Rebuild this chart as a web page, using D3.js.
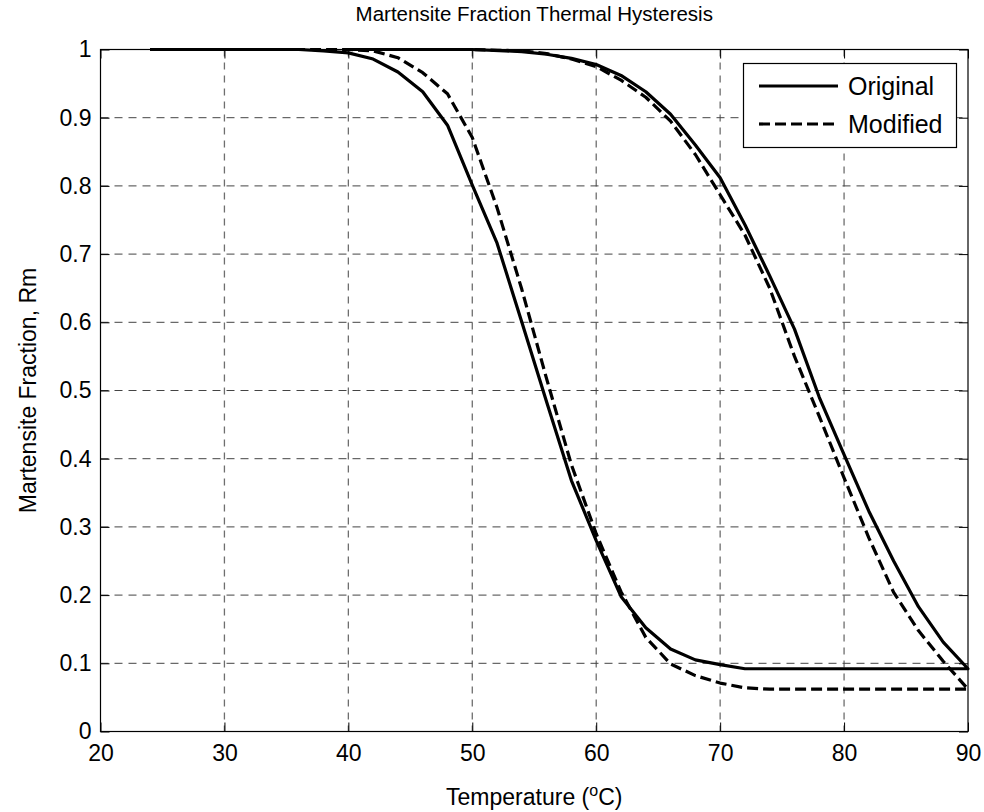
<!DOCTYPE html>
<html>
<head>
<meta charset="utf-8">
<script src="https://cdn.jsdelivr.net/npm/d3@7"></script>
<style>
  html, body { margin: 0; padding: 0; background: #fff; }
  svg { display: block; font-family: "Liberation Sans", Arial, Helvetica, sans-serif; }
</style>
</head>
<body>
<svg id="chart" width="984" height="812"></svg>
<script>
// Cooling branch (temperature rising left to right on the plot, fraction falling)
const coolingTemp     = [24, 36, 38, 40, 42, 44, 46, 48, 50, 52, 54, 56, 58, 60, 62, 64, 66, 68, 70, 72, 74, 90];
const coolingOriginal = [1.000, 1.000, 0.998, 0.995, 0.986, 0.967, 0.938, 0.889, 0.801, 0.716, 0.600, 0.483, 0.368, 0.280, 0.198, 0.152, 0.121, 0.105, 0.098, 0.092, 0.092, 0.092];
const coolingModified = [1.000, 1.000, 1.000, 1.000, 0.998, 0.988, 0.966, 0.935, 0.871, 0.768, 0.648, 0.517, 0.391, 0.290, 0.205, 0.138, 0.099, 0.082, 0.071, 0.064, 0.062, 0.062];

// Heating branch, traced back from 90 °C
const heatingTemp     = [90, 88, 86, 84, 82, 80, 78, 76, 74, 72, 70, 68, 66, 64, 62, 60, 58, 56, 54, 50, 40];
const heatingOriginal = [0.092, 0.131, 0.183, 0.250, 0.323, 0.406, 0.490, 0.590, 0.668, 0.743, 0.812, 0.860, 0.905, 0.938, 0.962, 0.978, 0.987, 0.993, 0.997, 1.000, 1.000];
const heatingModified = [0.062, 0.103, 0.148, 0.204, 0.284, 0.372, 0.462, 0.550, 0.650, 0.728, 0.787, 0.846, 0.895, 0.930, 0.955, 0.975, 0.986, 0.994, 0.998, 1.000, 1.000];

const seriesNames = ["Original", "Modified"];
const xTicks = [20, 30, 40, 50, 60, 70, 80, 90];
const yTicks = [0, 0.1, 0.2, 0.3, 0.4, 0.5, 0.6, 0.7, 0.8, 0.9, 1];
const yTickLabels = ["0", "0.1", "0.2", "0.3", "0.4", "0.5", "0.6", "0.7", "0.8", "0.9", "1"];

const margin = { left: 100.5, top: 49.5 };
const plotW = 968 - margin.left;
const plotH = 731.5 - margin.top;

const svg = d3.select("#chart");
const g = svg.append("g").attr("transform", `translate(${margin.left},${margin.top})`);

const x = d3.scaleLinear().domain([20, 90]).range([0, plotW]);
const y = d3.scaleLinear().domain([0, 1]).range([plotH, 0]);

// grid
const grid = g.append("g").attr("class", "grid");
grid.selectAll("line.vx").data(xTicks.slice(1, -1)).join("line")
  .attr("x1", d => x(d)).attr("x2", d => x(d))
  .attr("y1", 0).attr("y2", plotH)
  .attr("stroke", "#6e6e6e").attr("stroke-width", 1.3)
  .attr("stroke-dasharray", "7,6");
grid.selectAll("line.hy").data(yTicks.slice(1, -1)).join("line")
  .attr("x1", 0).attr("x2", plotW)
  .attr("y1", d => y(d)).attr("y2", d => y(d))
  .attr("stroke", "#444").attr("stroke-width", 1)
  .attr("stroke-dasharray", "8,6");

// series: each one is a closed cooling + heating loop
const line = d3.line().x(d => x(d[0])).y(d => y(d[1]));
function loop(coolVals, heatVals) {
  const pts = coolingTemp.map((t, i) => [t, coolVals[i]]);
  return pts.concat(heatingTemp.map((t, i) => [t, heatVals[i]]));
}
const series = [
  { name: seriesNames[0], pts: loop(coolingOriginal, heatingOriginal), dash: null },
  { name: seriesNames[1], pts: loop(coolingModified, heatingModified), dash: "11,5" }
];
g.append("defs").append("clipPath").attr("id", "clip")
  .append("rect").attr("x", -2).attr("y", -2).attr("width", plotW + 4).attr("height", plotH + 4);
g.selectAll("path.series").data(series).join("path")
  .attr("class", "series")
  .attr("clip-path", "url(#clip)")
  .attr("d", d => line(d.pts))
  .attr("fill", "none")
  .attr("stroke", "#000")
  .attr("stroke-width", 3.2)
  .attr("stroke-linejoin", "round")
  .attr("stroke-dasharray", d => d.dash);

// axes with inward ticks on all four sides
const tickLen = 9;
const axB = g.append("g").attr("transform", `translate(0,${plotH})`)
  .call(d3.axisBottom(x).tickValues(xTicks).tickSize(-tickLen).tickPadding(13).tickFormat(d3.format("d")));
const axT = g.append("g")
  .call(d3.axisTop(x).tickValues(xTicks).tickSize(-tickLen).tickFormat(""));
const axL = g.append("g")
  .call(d3.axisLeft(y).tickValues(yTicks).tickSize(-tickLen).tickPadding(9).tickFormat((d, i) => yTickLabels[i]));
const axR = g.append("g").attr("transform", `translate(${plotW},0)`)
  .call(d3.axisRight(y).tickValues(yTicks).tickSize(-tickLen).tickFormat(""));
[axB, axT, axL, axR].forEach(a => {
  a.select(".domain").remove();
  a.selectAll(".tick line").attr("stroke", "#000").attr("stroke-width", 1);
  a.selectAll("text").attr("font-size", 23).attr("fill", "#000")
    .attr("font-family", "'Liberation Sans', Arial, sans-serif");
});

// box
g.append("rect").attr("x", 0).attr("y", 0).attr("width", plotW).attr("height", plotH)
  .attr("fill", "none").attr("stroke", "#000").attr("stroke-width", 1.2);

// title and labels
svg.append("text").attr("x", margin.left + plotW / 2).attr("y", 21)
  .attr("text-anchor", "middle").attr("font-size", 20.5).text("Martensite Fraction Thermal Hysteresis");

const xl = svg.append("text").attr("x", margin.left + plotW / 2).attr("y", 805)
  .attr("text-anchor", "middle").attr("font-size", 23);
xl.append("tspan").text("Temperature (");
xl.append("tspan").attr("font-size", 16).attr("dy", -9).text("o");
xl.append("tspan").attr("dy", 9).text("C)");

svg.append("text").attr("transform", `translate(36,${margin.top + plotH / 2}) rotate(-90)`)
  .attr("text-anchor", "middle").attr("font-size", 23).text("Martensite Fraction, Rm");

// legend
const lg = svg.append("g").attr("transform", "translate(743.5,63.5)");
lg.append("rect").attr("width", 213).attr("height", 84)
  .attr("fill", "#fff").attr("stroke", "#000").attr("stroke-width", 1.2);
series.forEach((s, i) => {
  const yy = 22.5 + i * 38;
  lg.append("line").attr("x1", 15.5).attr("x2", 94.5).attr("y1", yy).attr("y2", yy)
    .attr("stroke", "#000").attr("stroke-width", 3.2).attr("stroke-dasharray", s.dash);
  lg.append("text").attr("x", 104.5).attr("y", yy + 8.5).attr("font-size", 25).text(s.name);
});
</script>
</body>
</html>
